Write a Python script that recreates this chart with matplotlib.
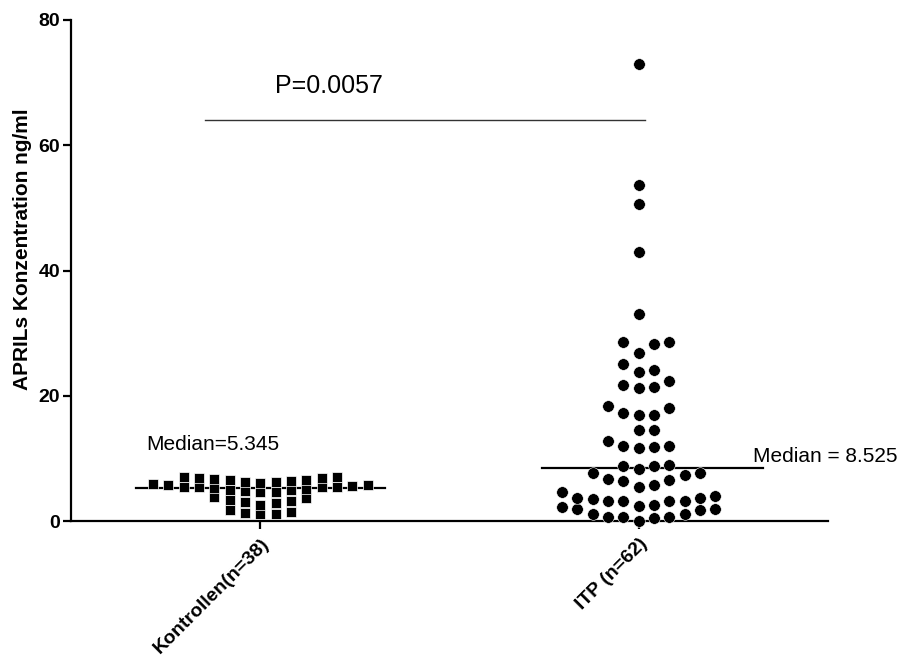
import numpy as np
import matplotlib
matplotlib.use("Agg")
import matplotlib.pyplot as plt

plt.rcParams['font.family'] = ['Liberation Sans', 'DejaVu Sans']

# APRIL concentration (ng/ml) per subject
groups = ["Kontrollen(n=38)", "ITP (n=62)"]
kontrollen = [1.1, 1.1, 1.3, 1.5, 1.7,
              2.6, 2.8, 3.0, 3.2, 3.4, 3.6, 3.8,
              4.6, 4.7, 4.8, 4.9, 5.0, 5.1, 5.3, 5.39, 5.4, 5.5, 5.5, 5.6, 5.7, 5.8, 5.9,
              6.1, 6.2, 6.3, 6.4, 6.5, 6.6, 6.7, 6.8, 6.9, 7.0, 7.1]
itp = [0.0, 0.4, 0.6, 0.6, 0.7, 1.1, 1.1, 1.7, 1.9, 1.9, 2.2,
       2.45, 2.6, 3.2, 3.2, 3.2, 3.2, 3.5, 3.7, 3.7, 4.0, 4.7,
       5.4, 5.7, 6.4, 6.5, 6.7, 7.3, 7.6, 7.7,
       8.3, 8.75, 8.8, 8.9,
       11.6, 11.8, 11.9, 12.0, 12.8,
       14.5, 14.6,
       16.9, 16.9, 17.3, 18.0, 18.4,
       21.3, 21.4, 21.7, 22.4,
       23.8, 24.1, 25.1,
       26.9, 28.3, 28.6, 28.6,
       33.05, 43.0, 50.6, 53.65, 73.0]
p_text = "P=0.0057"
p_level = 64.0


def swarm_offsets(values, row_height):
    # group sorted values into rows, then spread each row out from the centre
    values = np.asarray(values)
    order = np.argsort(values, kind="stable")
    offsets = np.zeros(len(values))
    row, row_start = [], None

    def flush(row):
        for k, idx in enumerate(row):
            step = (k + 1) // 2
            offsets[idx] = step if k % 2 == 1 else -step

    for idx in order:
        v = values[idx]
        if row_start is None or v >= row_start + row_height:
            flush(row)
            row, row_start = [], v
        row.append(idx)
    flush(row)
    return offsets


fig = plt.figure(figsize=(9.04, 6.57), dpi=100)
ax = fig.add_axes([71 / 904, 136 / 657, 757 / 904, 501 / 657])

dx = 0.0405
k_vals = np.array(kontrollen)
i_vals = np.array(itp)
k_x = 1 + swarm_offsets(k_vals, 1.4) * dx
i_x = 2 + swarm_offsets(i_vals, 2.35) * dx

ax.scatter(k_x, k_vals, marker='s', s=52, color='black', edgecolors='white',
           linewidths=0.5, clip_on=False, zorder=3)
ax.scatter(i_x, i_vals, marker='o', s=70, color='black', edgecolors='white',
           linewidths=0.4, clip_on=False, zorder=3)

# medians
k_med = np.median(k_vals)
i_med = np.median(i_vals)
ax.plot([0.671, 1.329], [k_med, k_med], color='black', lw=1.6, zorder=2)
ax.plot([1.745, 2.329], [i_med, i_med], color='black', lw=1.6, zorder=2)
ax.text(0.70, 12.2, f"Median={round(k_med, 3)}", fontsize=15, va='center', ha='left')
ax.text(2.303, 10.3, f"Median = {round(i_med, 3)}", fontsize=15, va='center', ha='left')

# significance
ax.plot([0.853, 2.016], [p_level, p_level], color='#333333', lw=1.0)
ax.text(1.04, 69.5, p_text, fontsize=18, va='center', ha='left')

ax.set_xlim(0.5, 2.5)
ax.set_ylim(0, 80)
ax.set_yticks([0, 20, 40, 60, 80])
ax.set_xticks([1, 2])
ax.set_xticklabels(groups, rotation=45, ha='right', rotation_mode='anchor',
                   fontsize=14, fontweight='bold')
for lab in ax.get_yticklabels():
    lab.set_fontsize(14)
    lab.set_fontweight('bold')
ax.set_ylabel("APRILs Konzentration ng/ml", fontsize=15, fontweight='bold')
ax.yaxis.set_label_coords(-0.051, 0.543)

for side in ['top', 'right']:
    ax.spines[side].set_visible(False)
for side in ['left', 'bottom']:
    ax.spines[side].set_linewidth(1.6)
ax.tick_params(axis='both', direction='out', length=6, width=1.6, pad=2)
ax.tick_params(axis='x', pad=4)

fig.savefig("out.png", dpi=100)
